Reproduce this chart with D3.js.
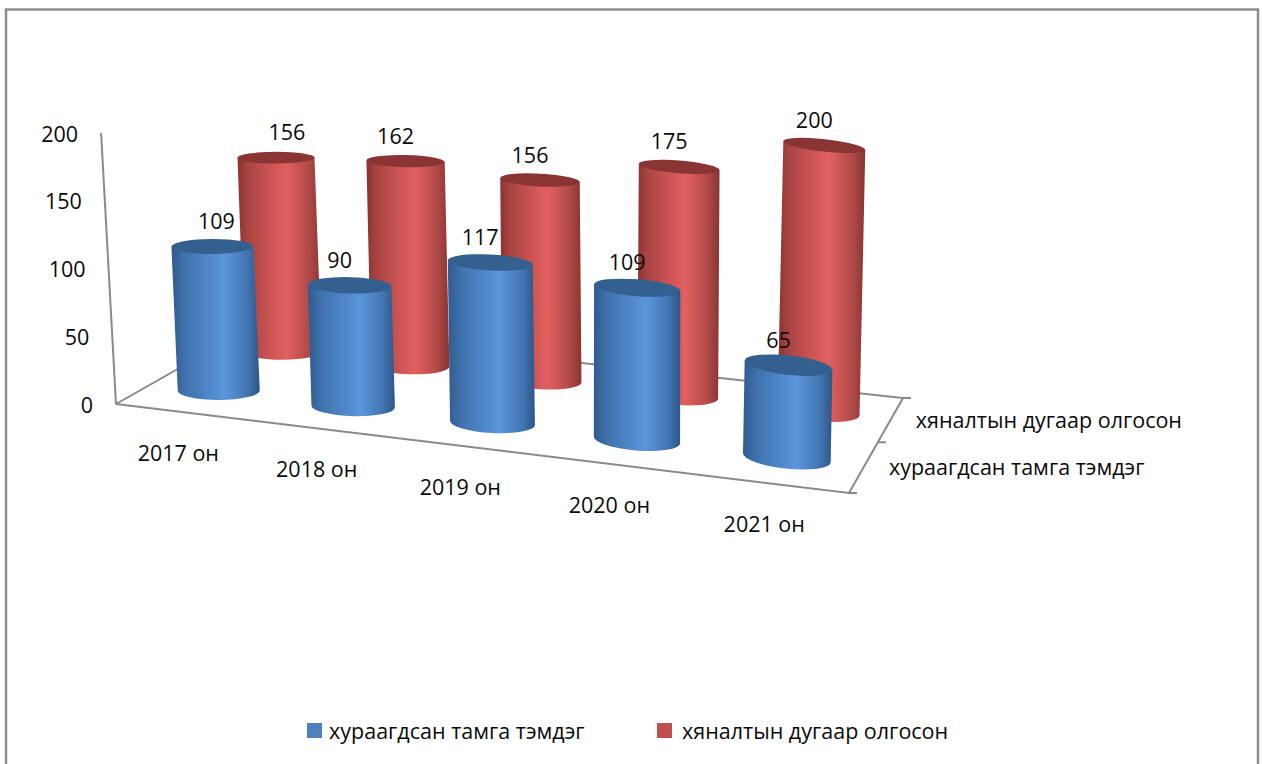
<!DOCTYPE html>
<html><head><meta charset="utf-8">
<style>html,body{margin:0;padding:0;background:#fff}svg{display:block}text{font-family:"Open Sans",sans-serif;fill:#0a0a0a}</style>
<script src="https://cdnjs.cloudflare.com/ajax/libs/d3/7.8.5/d3.min.js"></script>
</head><body><svg id="c" width="1262" height="764"></svg>
<script>
const categories = ["2017 он","2018 он","2019 он","2020 он","2021 он"];
const seriesNames = ["хураагдсан тамга тэмдэг","хяналтын дугаар олгосон"];
const stampValues = [109,90,117,109,65];
const controlValues = [156,162,156,175,200];
const valueTicks = [0,50,100,150,200];

const svg = d3.select("#c");
const W=1262,H=764;
const u = d3.scalePoint().domain(categories).range([0,1]).padding(0.5);
const v = d3.scalePoint().domain(seriesNames).range([0,1]).padding(0.5);
const h = d3.scaleLinear().domain([0,200]).range([0,271]);

// floor plane as a perspective quad
const P=[[116,404],[849,493],[903,398],[252,327]];
const sx=P[0][0]-P[1][0]+P[2][0]-P[3][0], sy=P[0][1]-P[1][1]+P[2][1]-P[3][1];
const dx1=P[1][0]-P[2][0], dy1=P[1][1]-P[2][1], dx2=P[3][0]-P[2][0], dy2=P[3][1]-P[2][1];
const det=dx1*dy2-dx2*dy1;
const g=(sx*dy2-dx2*sy)/det, k=(dx1*sy-sx*dy1)/det;
const depth=(a,b)=>1+g*a+k*b;
function floor(a,b){
  const w=depth(a,b);
  return [(P[0][0]+(P[1][0]-P[0][0]+g*P[1][0])*a+(P[3][0]-P[0][0]+k*P[3][0])*b)/w,
          (P[0][1]+(P[1][1]-P[0][1]+g*P[1][1])*a+(P[3][1]-P[0][1]+k*P[3][1])*b)/w];
}
const lean=d3.scaleLinear().domain([116,822]).range([0.055,-0.022]);
function up(a,b,val){
  const f=floor(a,b), w=depth(a,b), dy=h(val)/w;
  return [f[0]-lean(f[0])*dy, f[1]-dy];
}
const radius=(a,b)=>42/depth(a,b);
const flat=d3.scaleLinear().domain([130,460]).range([0.145,0.25]);
const tilt=d3.scaleLinear().domain([0,1]).range([-1,7]);

// frame
svg.append("path").attr("d",`M6,${H+5}V9.5H1258V${H+5}`).attr("fill","none").attr("stroke","#8e8e8e").attr("stroke-width",2.5);

// gradients
const defs=svg.append("defs");
const grads={stamp:[[0,"#2f5a8e"],[.15,"#3f72ad"],[.6,"#5b95dc"],[.85,"#4377b3"],[1,"#2c5688"]],
             control:[[0,"#8a3230"],[.12,"#a84442"],[.58,"#e36060"],[.85,"#b04a48"],[1,"#8a3432"]]};
Object.entries(grads).forEach(([id,st])=>{
  const lg=defs.append("linearGradient").attr("id",id).attr("x1",0).attr("x2",1).attr("y1",0).attr("y2",0);
  st.forEach(s=>lg.append("stop").attr("offset",s[0]).attr("stop-color",s[1]));
});

// floor and wall
const axisColor="#8a8a8a";
const wall=svg.append("g").attr("fill","none").attr("stroke",axisColor).attr("stroke-width",2);
const corner=(a,b)=>floor(a,b);
const line=d3.line();
wall.append("path").attr("d",line([corner(0,0),corner(1,0),corner(1,1),corner(0,1),corner(0,0)]));
wall.append("path").attr("d",line([up(0,0,0),up(0,0,200)]));
[0,0.5,1].forEach(b=>{const p=corner(1,b);wall.append("path").attr("d",line([p,[p[0]+8,p[1]]]));});

// cylinders
const rows=[
 {name:seriesNames[1],vals:controlValues,grad:"control",top:"#8a3533"},
 {name:seriesNames[0],vals:stampValues,grad:"stamp",top:"#33608f"}];
const labelLayer=[];
rows.forEach(r=>{
  categories.forEach((c,i)=>{
    const a=u(c), b=v(r.name), val=r.vals[i];
    const B=floor(a,b), T=up(a,b,val), R=radius(a,b), rot=tilt(a), q=rot*Math.PI/180;
    const ex=R*Math.cos(q), ey=R*Math.sin(q);
    const ryT=R*flat(T[1]), ryB=R*flat(B[1]);
    const d=`M${T[0]-ex},${T[1]-ey}L${B[0]-ex},${B[1]-ey}A${R},${ryB} ${rot} 0 0 ${B[0]+ex},${B[1]+ey}L${T[0]+ex},${T[1]+ey}Z`;
    svg.append("path").attr("d",d).attr("fill",`url(#${r.grad})`);
    svg.append("ellipse").attr("cx",T[0]).attr("cy",T[1]).attr("rx",R).attr("ry",ryT)
      .attr("transform",`rotate(${rot} ${T[0]} ${T[1]})`).attr("fill",r.top);
    labelLayer.push({val,T,i,grad:r.grad});
  });
});

const fs=21.5;
function txt(x,y,s,anchor="middle",size=fs){
  return svg.append("text").attr("x",x).attr("y",y).attr("text-anchor",anchor)
    .attr("dominant-baseline","central").attr("font-size",size).text(s);
}
labelLayer.forEach(l=>{
  const dx=l.i===0?(l.grad==="control"?11:4):-10;
  txt(l.T[0]+dx,l.T[1]-26,l.val);
});
// value axis labels
valueTicks.forEach(t=>{
  const p=up(0,0,t);
  txt(p[0]-23,p[1],t,"end");
});
// category labels
categories.forEach(c=>{
  const p=floor(u(c),0);
  txt(p[0]-5,p[1]+40,c);
});
// series labels
seriesNames.forEach(n=>{
  const p=floor(1,v(n));
  txt(p[0]+25,p[1],n,"start");
});
// legend
const legendX=[307,657], legendColor=["#4f81bd","#c0504d"], legendText=[329,682];
seriesNames.forEach((n,i)=>{
  svg.append("rect").attr("x",legendX[i]).attr("y",723).attr("width",15).attr("height",15).attr("fill",legendColor[i]);
  txt(legendText[i],730,n,"start");
});
</script></body></html>
